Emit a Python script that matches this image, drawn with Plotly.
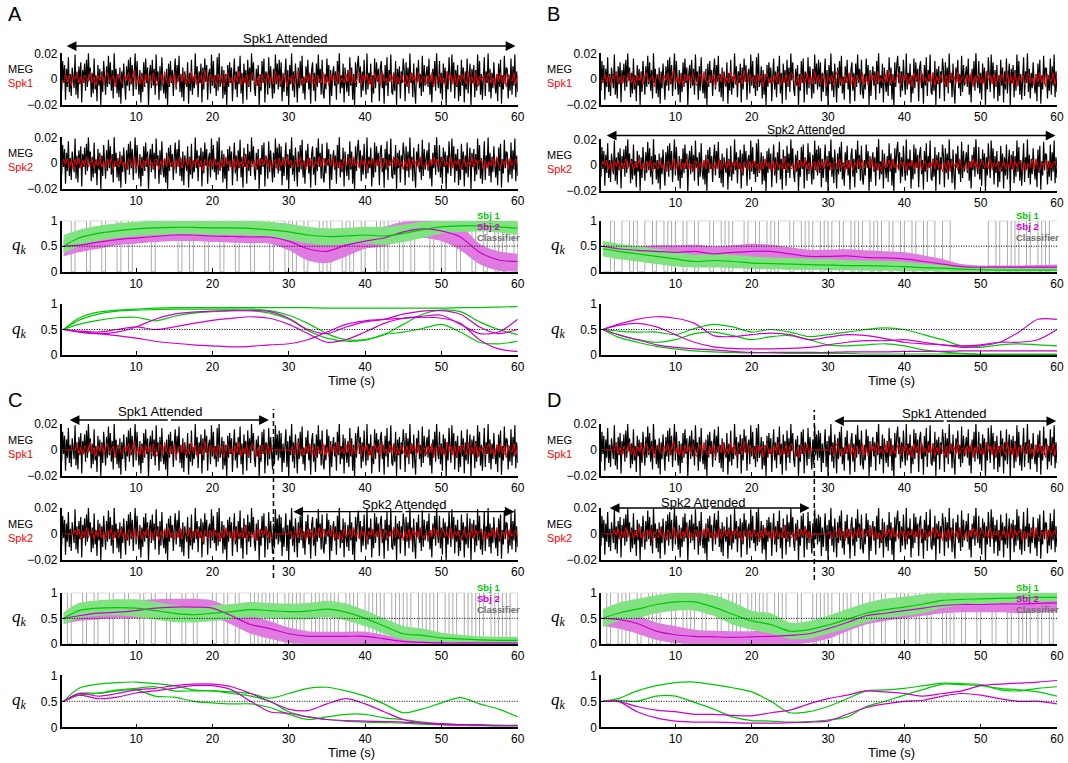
import plotly.graph_objects as go

W, H = 1068, 763

# ------------------------------------------------------------------ data
# MEG sensor trace (units of 0.001), one sample every 0.125 s
MEG_BLACK = [
    5, -9, 14, -3, 11, -16, 8, -6, 17, -10, 4, -13,
    9, -2, -7, 19, -12, 6, -15, 10, -4, 13, -18, 7,
    -3, 12, -9, 15, -6, 20, -1, 9, -14, 5, -11, 16,
    -8, 3, -17, 11, -5, 8, -20, 6, -10, 14, -2, -12,
    10, -6, 18, -4, 13, -9, 7, -15, 21, -3, 8, -11,
    4, -14, 9, -19, 6, -7, 12, -2, -16, 10, -5, 15,
    -9, 17, -4, 11, -13, 3, 20, -8, 14, -1, -12, 7,
    -18, 5, -10, 13, -6, 16, -3, 9, -21, 4, 11, -7,
    15, -5, 8, -12, 19, -2, 6, -16, 10, -9, 17, -4,
    -11, 3, -15, 8, -20, 12, -6, 14, -3, 7, -13, 5,
    16, -8, 11, -2, 18, -10, 4, -14, 9, -17, 6, -1,
    -6, 13, -19, 5, -9, 15, -12, 2, -7, 20, -4, 10,
    -14, 6, -3, 12, -18, 9, -8, 16, -2, 11, -16, 4,
    8, -11, 19, -5, 14, -7, 3, -13, 17, -9, 21, -6,
    -2, 10, -15, 7, -12, 4, -20, 11, -6, 13, -3, 9,
    -17, 2, 16, -8, 6, -14, 10, -4, 18, -11, 5, -19,
    12, -3, 7, -16, 15, -6, 9, -10, 20, -1, 13, -7,
    -13, 8, -5, 11, -21, 4, -9, 14, -3, 16, -18, 6,
    3, -12, 17, -7, 10, -2, -15, 8, -11, 19, -4, 12,
    -8, 15, -6, 13, -17, 5, -10, 3, 16, -13, 7, -20,
    11, -4, 20, -9, 6, -14, 12, -1, -18, 9, -7, 14,
    -5, 18, -11, 2, -16, 10, -3, 15, -8, 4, -19, 7,
    13, -9, 5, -17, 12, -6, 19, -3, 8, -12, 15, -10,
    -15, 4, -8, 16, -2, 11, -20, 7, -13, 3, 10, -5,
    6, -16, 14, -4, 21, -11, 3, -7, 12, -18, 9, -2,
    -10, 7, -13, 17, -5, 9, -16, 4, -21, 13, -6, 11,
    18, -3, 10, -14, 6, -9, 15, -1, -12, 20, -8, 5,
    -4, 12, -18, 3, -11, 16, -7, 13, -2, 8, -17, 9,
    14, -7, 4, -19, 11, -5, 17, -13, 7, -2, 19, -10,
    -12, 5, -9, 14, -20, 8, -4, 10, -15, 6, -3, 16,
    7, -17, 13, -6, 9, -11, 20, -3, 5, -14, 12, -8,
    -19, 9, -2, 15, -7, 4, -13, 18, -10, 11, -5, 3,
    10, -6, 16, -12, 3, -18, 8, -4, 14, -9, 21, -1,
    -7, 14, -11, 5, -16, 12, -3, 9, -20, 6, -8, 17,
    4, -10, 19, -2, 13, -15, 7, -6, 11, -17, 3, -13,
    15, -5, 9, -18, 6, -8, 16, -11, 2, 12, -21, 8,
    -3, 11, -14, 7, -9, 19, -5, 14, -12, 4, -16, 10,
    17, -13, 6, -3, 20, -10, 8, -15, 5, -7, 13, -2,
    -11, 4, -17, 12, -6, 15, -19, 3, -8, 18, -4, 9,
    8, -15, 3, -9, 16, -12, 10, -5, 19, -14, 6, -10,
]
# speech envelopes (units of 0.001), one sample every 0.25 s
MEG_RED1 = [
    1, -3, 4, -2, 3, -5, 2, 0, 5, -3, 2, -4, 3, 1, -2, 6, -3, 2, -5, 3,
    -1, 4, -4, 2, 5, -2, 0, 3, -6, 2, 4, -2, -3, 3, -1, 5, -4, 1, 7, -3,
    2, -4, 3, -5, 4, -1, 2, -3, 5, -2, -5, 2, 4, -3, 6, -1, -4, 3, -2, 4,
    -6, 2, 3, -2, 5, -4, 1, -3, 6, -2, 4, -5, 1, 3, -4, 7, -2, -3, 4, -1,
    2, -5, 4, -1, 3, -6, 2, 5, -3, 1, -4, 3, -2, 6, -5, 1, -3, 4, -5, 3,
    5, -1, -4, 2, -6, 4, 1, -3, 5, -3, 2, -4, 6, -2, 3, -4, 1, 4, -6, 2,
    -1, 3, -5, 3, 6, -3, 1, -4, 3, -2, 5, -4, 2, -6, 3, 0, -3, 5, -4, 2,
    -5, 4, -1, 3, -4, 6, -2, 1, -3, 4, -2, 7, -4, 2, -3, 1, 5, -5, 3, -1,
    4, -4, 2, -6, 5, -1, 3, -5, 6, -2, 1, -3, 4, -2, 5, -5, 2, -3, 4, -1,
    -4, 3, -6, 5, -1, 3, -4, 6, -3, 1, 2, -4, 3, -2, 5, -6, 2, -2, 4, -3,
    1, -5, 6, -1, 3, -4, 4, -5, 3, -2, 4, -1, -4, 6, -3, 2, -4, 5, -6, 2,
    -1, 3, -4, 2, 5, -3, 1, -5, 4, -2, 5, -3, 3, -6, 4, 0, -2, 5, -4, 3,
]
MEG_RED2 = [
    -2, 3, -1, 4, -3, 2, -5, 3, -1, 4, -4, 2, -2, 5, -3, 1, 3, -4, 2, -2,
    5, -3, 1, -4, 3, -1, 4, -5, 2, -1, -3, 4, -2, 1, -5, 3, 2, -3, 5, -4,
    1, 3, -4, 2, -2, 5, -3, 1, -4, 3, 3, -5, 2, -1, 4, -3, 5, -2, 1, -4,
    2, -3, 5, -4, 1, 3, -2, 4, -5, 2, -1, 4, -3, 2, -6, 3, 1, -4, 3, -2,
    4, -2, 1, -5, 3, -3, 5, -1, 2, -4, 3, -5, 4, -2, 1, -3, 6, -4, 2, -1,
    -3, 2, -5, 4, -2, 3, -1, 5, -3, 2, -4, 1, 3, -5, 4, -2, 2, -3, 5, -1,
    2, -4, 1, 3, -3, 5, -2, 1, -5, 4, -2, 3, -4, 2, -1, 5, -3, 4, -2, 1,
    3, -2, 5, -4, 2, -3, 1, -5, 4, -2, -1, 4, -3, 5, -2, 1, -4, 3, -1, 3,
    -5, 2, -1, 4, -3, 2, -2, 5, -4, 1, 3, -4, 2, -1, 5, -3, 4, -2, 1, -5,
    2, -3, 4, -5, 3, -1, 2, -4, 5, -2, -3, 1, -4, 3, -2, 5, -1, 3, -4, 2,
    4, -2, 1, -3, 5, -4, 2, -1, 3, -5, -2, 4, -3, 1, -2, 5, -4, 3, -1, 2,
    3, -5, 2, -4, 1, -2, 4, -3, 5, -1, -4, 2, -1, 3, -5, 4, -2, 1, 3, -3,
]
SILENT_START = [0] * 7     # envelope silent before ~2 s (panels C, D)
SILENT_SWITCH = [0] * 9    # envelope silent around the switch (~28-30 s)
MEG_RED1_CD = SILENT_START + MEG_RED1[7:111] + SILENT_SWITCH + MEG_RED1[120:]
MEG_RED2_CD = SILENT_START + MEG_RED2[7:111] + SILENT_SWITCH + MEG_RED2[120:]
T_BLACK = [0.125 * (i + 1) for i in range(len(MEG_BLACK))]
T_RED = [0.25 * (i + 1) for i in range(len(MEG_RED1))]

# classifier decisions, one every 0.5 s
CLS_A = "1101110111 0111011011 1110111111 0110111011 1011101110 1111011101 0110111010 1110101101 1101011101 1011110110 1110111011 0110101101"
CLS_B = "0010011010 0110110101 1011011101 1010111011 0110101110 1101011010 1101101011 0101101101 1011011001 1000000000 0110110101 1011010111"
CLS_C = "1011101101 1101110111 0110111011 1011011110 1101101110 1010101101 0101101010 1011010110 1010110101 0110101011 0101101010 1101010110"
CLS_D = "1011010110 1101011101 1010110111 0110101101 0101101011 1011101010 1101011011 0110111010 1101101110 1011011101 1101110110 1011011011"

# q_k knots
T_Q = [0.5, 2.5, 5, 7.5, 10, 12.5, 15, 17.5, 20, 22.5, 25, 27.5, 30,
       32.5, 35, 37.5, 40, 42.5, 45, 47.5, 50, 52.5, 55, 57.5, 60]

# ---- panel A
A_G_MEAN = [0.5, 0.66, 0.75, 0.8, 0.84, 0.86, 0.87, 0.87, 0.86, 0.86, 0.85, 0.82, 0.78, 0.72, 0.69, 0.7, 0.72, 0.7, 0.75, 0.82, 0.88, 0.9, 0.9, 0.88, 0.85]
A_G_UP = [0.72, 0.82, 0.9, 0.95, 0.98, 1, 1, 1, 1, 1, 1, 0.98, 0.94, 0.88, 0.85, 0.86, 0.88, 0.88, 0.92, 0.98, 1, 1, 1, 1, 1]
A_G_LO = [0.36, 0.5, 0.6, 0.66, 0.7, 0.72, 0.73, 0.73, 0.72, 0.72, 0.71, 0.68, 0.62, 0.56, 0.52, 0.54, 0.56, 0.53, 0.58, 0.66, 0.75, 0.78, 0.79, 0.77, 0.72]
A_M_MEAN = [0.5, 0.52, 0.58, 0.63, 0.66, 0.69, 0.72, 0.72, 0.7, 0.69, 0.68, 0.68, 0.6, 0.45, 0.4, 0.52, 0.6, 0.66, 0.78, 0.84, 0.8, 0.68, 0.38, 0.23, 0.2]
A_M_UP = [0.62, 0.68, 0.72, 0.75, 0.78, 0.8, 0.82, 0.82, 0.82, 0.8, 0.8, 0.8, 0.72, 0.6, 0.55, 0.68, 0.78, 0.88, 0.98, 1, 1, 0.9, 0.55, 0.4, 0.35]
A_M_LO = [0.3, 0.38, 0.45, 0.52, 0.55, 0.58, 0.6, 0.6, 0.58, 0.57, 0.56, 0.55, 0.42, 0.22, 0.17, 0.3, 0.45, 0.5, 0.6, 0.66, 0.6, 0.42, 0.15, 0.02, 0.0]
A_G1 = [0.5, 0.72, 0.84, 0.88, 0.9, 0.92, 0.93, 0.93, 0.93, 0.93, 0.93, 0.93, 0.93, 0.93, 0.92, 0.92, 0.92, 0.92, 0.92, 0.92, 0.92, 0.93, 0.93, 0.94, 0.95]
A_G2 = [0.5, 0.68, 0.8, 0.86, 0.88, 0.89, 0.9, 0.9, 0.9, 0.9, 0.9, 0.87, 0.78, 0.62, 0.42, 0.3, 0.3, 0.4, 0.6, 0.8, 0.88, 0.85, 0.65, 0.5, 0.4]
A_G3 = [0.5, 0.6, 0.68, 0.73, 0.74, 0.67, 0.76, 0.82, 0.85, 0.87, 0.87, 0.82, 0.7, 0.48, 0.33, 0.27, 0.29, 0.4, 0.45, 0.52, 0.6, 0.45, 0.25, 0.22, 0.27]
A_M1 = [0.5, 0.45, 0.42, 0.45, 0.55, 0.7, 0.8, 0.84, 0.86, 0.87, 0.87, 0.85, 0.72, 0.5, 0.42, 0.55, 0.65, 0.7, 0.8, 0.86, 0.87, 0.8, 0.55, 0.42, 0.5]
A_M2 = [0.5, 0.46, 0.42, 0.38, 0.33, 0.27, 0.23, 0.2, 0.18, 0.16, 0.17, 0.2, 0.22, 0.3, 0.45, 0.6, 0.67, 0.7, 0.72, 0.74, 0.72, 0.62, 0.3, 0.12, 0.07]
A_M3 = [0.5, 0.47, 0.45, 0.5, 0.55, 0.5, 0.55, 0.62, 0.68, 0.72, 0.75, 0.72, 0.6, 0.42, 0.25, 0.3, 0.45, 0.62, 0.72, 0.76, 0.78, 0.6, 0.42, 0.45, 0.7]

# ---- panel B
B_G_MEAN = [0.45, 0.4, 0.35, 0.3, 0.25, 0.2, 0.22, 0.2, 0.17, 0.16, 0.15, 0.14, 0.13, 0.12, 0.12, 0.11, 0.1, 0.08, 0.07, 0.05, 0.04, 0.03, 0.03, 0.03, 0.03]
B_G_UP = [0.6, 0.55, 0.5, 0.45, 0.4, 0.33, 0.35, 0.33, 0.3, 0.28, 0.27, 0.26, 0.25, 0.23, 0.22, 0.21, 0.2, 0.16, 0.13, 0.11, 0.1, 0.08, 0.07, 0.07, 0.07]
B_G_LO = [0.3, 0.25, 0.2, 0.15, 0.1, 0.08, 0.08, 0.07, 0.06, 0.05, 0.04, 0.04, 0.03, 0.03, 0.02, 0.02, 0.01, 0.01, 0.0, 0.0, 0.0, 0.0, 0.0, 0.0, 0.0]
B_M_MEAN = [0.5, 0.45, 0.42, 0.4, 0.38, 0.4, 0.35, 0.38, 0.4, 0.4, 0.35, 0.3, 0.3, 0.31, 0.28, 0.27, 0.25, 0.2, 0.15, 0.1, 0.09, 0.09, 0.09, 0.09, 0.09]
B_M_UP = [0.55, 0.52, 0.5, 0.52, 0.52, 0.53, 0.5, 0.52, 0.55, 0.53, 0.48, 0.43, 0.43, 0.44, 0.42, 0.4, 0.38, 0.32, 0.25, 0.15, 0.12, 0.12, 0.12, 0.13, 0.14]
B_M_LO = [0.35, 0.3, 0.3, 0.28, 0.25, 0.27, 0.22, 0.25, 0.27, 0.26, 0.22, 0.18, 0.17, 0.18, 0.15, 0.13, 0.12, 0.1, 0.07, 0.05, 0.05, 0.05, 0.05, 0.05, 0.05]
B_G1 = [0.5, 0.47, 0.45, 0.45, 0.4, 0.52, 0.6, 0.55, 0.45, 0.5, 0.45, 0.36, 0.4, 0.45, 0.5, 0.53, 0.5, 0.4, 0.3, 0.18, 0.15, 0.2, 0.22, 0.2, 0.18]
B_G2 = [0.5, 0.4, 0.3, 0.25, 0.3, 0.42, 0.45, 0.38, 0.3, 0.36, 0.38, 0.3, 0.2, 0.18, 0.2, 0.22, 0.18, 0.1, 0.06, 0.03, 0.02, 0.02, 0.02, 0.02, 0.02]
B_G3 = [0.5, 0.35, 0.25, 0.17, 0.12, 0.08, 0.06, 0.05, 0.04, 0.04, 0.03, 0.03, 0.03, 0.03, 0.02, 0.02, 0.02, 0.02, 0.02, 0.02, 0.01, 0.01, 0.01, 0.01, 0.01]
B_M1 = [0.5, 0.6, 0.7, 0.75, 0.72, 0.62, 0.38, 0.36, 0.4, 0.43, 0.4, 0.3, 0.35, 0.4, 0.38, 0.32, 0.25, 0.22, 0.2, 0.15, 0.18, 0.25, 0.45, 0.7, 0.7]
B_M2 = [0.5, 0.58, 0.62, 0.55, 0.4, 0.25, 0.16, 0.13, 0.12, 0.12, 0.13, 0.15, 0.2, 0.25, 0.28, 0.28, 0.3, 0.25, 0.2, 0.18, 0.2, 0.25, 0.25, 0.3, 0.5]
B_M3 = [0.5, 0.4, 0.3, 0.2, 0.15, 0.12, 0.1, 0.07, 0.05, 0.05, 0.05, 0.05, 0.05, 0.06, 0.06, 0.06, 0.07, 0.07, 0.07, 0.08, 0.08, 0.08, 0.08, 0.08, 0.08]

# ---- panel C
C_G_MEAN = [0.5, 0.65, 0.7, 0.71, 0.7, 0.65, 0.6, 0.57, 0.6, 0.63, 0.67, 0.65, 0.63, 0.64, 0.68, 0.62, 0.5, 0.35, 0.2, 0.17, 0.12, 0.1, 0.08, 0.07, 0.07]
C_G_UP = [0.62, 0.8, 0.85, 0.87, 0.87, 0.82, 0.76, 0.72, 0.75, 0.78, 0.82, 0.8, 0.79, 0.8, 0.84, 0.79, 0.66, 0.5, 0.35, 0.3, 0.22, 0.18, 0.15, 0.14, 0.14]
C_G_LO = [0.38, 0.5, 0.55, 0.56, 0.53, 0.48, 0.43, 0.42, 0.45, 0.48, 0.52, 0.5, 0.48, 0.48, 0.52, 0.46, 0.35, 0.2, 0.08, 0.05, 0.03, 0.02, 0.01, 0.01, 0.01]
C_M_MEAN = [0.5, 0.55, 0.6, 0.62, 0.65, 0.7, 0.72, 0.72, 0.7, 0.55, 0.38, 0.3, 0.2, 0.15, 0.15, 0.15, 0.15, 0.1, 0.05, 0.03, 0.02, 0.02, 0.02, 0.02, 0.02]
C_M_UP = [0.6, 0.68, 0.75, 0.8, 0.85, 0.87, 0.88, 0.88, 0.85, 0.7, 0.55, 0.45, 0.32, 0.25, 0.24, 0.24, 0.24, 0.18, 0.1, 0.06, 0.05, 0.04, 0.04, 0.04, 0.04]
C_M_LO = [0.4, 0.45, 0.48, 0.5, 0.5, 0.52, 0.55, 0.55, 0.52, 0.38, 0.2, 0.1, 0.02, 0, 0, 0, 0, 0, 0, 0, 0, 0, 0, 0, 0]
C_G1 = [0.5, 0.75, 0.83, 0.86, 0.87, 0.84, 0.8, 0.72, 0.7, 0.68, 0.65, 0.56, 0.65, 0.75, 0.77, 0.7, 0.6, 0.45, 0.28, 0.35, 0.47, 0.57, 0.45, 0.35, 0.2]
C_G2 = [0.5, 0.62, 0.65, 0.7, 0.72, 0.6, 0.58, 0.5, 0.47, 0.45, 0.45, 0.38, 0.25, 0.15, 0.2, 0.25, 0.25, 0.18, 0.15, 0.1, 0.07, 0.05, 0.05, 0.04, 0.04]
C_G3 = [0.5, 0.65, 0.66, 0.72, 0.75, 0.78, 0.7, 0.7, 0.7, 0.65, 0.6, 0.5, 0.3, 0.2, 0.15, 0.12, 0.1, 0.09, 0.08, 0.06, 0.05, 0.04, 0.03, 0.03, 0.03]
C_M1 = [0.5, 0.65, 0.6, 0.65, 0.72, 0.75, 0.8, 0.83, 0.83, 0.78, 0.65, 0.5, 0.35, 0.32, 0.45, 0.55, 0.45, 0.3, 0.15, 0.08, 0.05, 0.04, 0.04, 0.03, 0.03]
C_M2 = [0.5, 0.62, 0.55, 0.58, 0.66, 0.7, 0.75, 0.8, 0.8, 0.72, 0.5, 0.3, 0.27, 0.2, 0.15, 0.13, 0.12, 0.11, 0.1, 0.08, 0.07, 0.05, 0.04, 0.03, 0.03]

# ---- panel D
D_G_MEAN = [0.5, 0.6, 0.68, 0.77, 0.82, 0.82, 0.72, 0.58, 0.45, 0.38, 0.25, 0.28, 0.37, 0.48, 0.6, 0.67, 0.72, 0.78, 0.85, 0.87, 0.88, 0.89, 0.9, 0.91, 0.91]
D_G_UP = [0.68, 0.8, 0.88, 0.95, 1, 1, 0.95, 0.82, 0.65, 0.6, 0.42, 0.45, 0.55, 0.68, 0.8, 0.88, 0.92, 0.97, 1, 1, 1, 1, 1, 1, 1]
D_G_LO = [0.33, 0.45, 0.5, 0.6, 0.65, 0.65, 0.55, 0.38, 0.28, 0.2, 0.1, 0.1, 0.2, 0.3, 0.42, 0.5, 0.55, 0.6, 0.7, 0.75, 0.78, 0.8, 0.82, 0.83, 0.84]
D_M_MEAN = [0.5, 0.48, 0.4, 0.25, 0.18, 0.15, 0.14, 0.13, 0.14, 0.15, 0.17, 0.2, 0.3, 0.42, 0.55, 0.6, 0.65, 0.7, 0.75, 0.77, 0.77, 0.78, 0.78, 0.79, 0.8]
D_M_UP = [0.55, 0.58, 0.55, 0.42, 0.35, 0.28, 0.26, 0.25, 0.25, 0.28, 0.3, 0.35, 0.42, 0.55, 0.66, 0.72, 0.78, 0.82, 0.9, 0.92, 0.92, 0.92, 0.92, 0.93, 0.93]
D_M_LO = [0.35, 0.3, 0.2, 0.08, 0.02, 0, 0, 0, 0, 0, 0, 0.02, 0.1, 0.25, 0.38, 0.45, 0.5, 0.55, 0.6, 0.62, 0.62, 0.62, 0.6, 0.62, 0.63]
D_G1 = [0.5, 0.55, 0.7, 0.8, 0.86, 0.87, 0.82, 0.76, 0.68, 0.5, 0.28, 0.3, 0.4, 0.55, 0.7, 0.72, 0.75, 0.8, 0.85, 0.84, 0.82, 0.72, 0.7, 0.75, 0.78]
D_G2 = [0.5, 0.52, 0.5, 0.6, 0.6, 0.48, 0.35, 0.2, 0.13, 0.12, 0.1, 0.11, 0.14, 0.2, 0.4, 0.5, 0.62, 0.73, 0.83, 0.82, 0.8, 0.75, 0.72, 0.68, 0.6]
D_M1 = [0.5, 0.5, 0.4, 0.33, 0.3, 0.25, 0.25, 0.23, 0.22, 0.28, 0.33, 0.45, 0.55, 0.62, 0.7, 0.68, 0.65, 0.6, 0.65, 0.7, 0.8, 0.83, 0.85, 0.87, 0.9]
D_M2 = [0.5, 0.5, 0.3, 0.18, 0.12, 0.1, 0.1, 0.09, 0.08, 0.08, 0.09, 0.1, 0.12, 0.25, 0.38, 0.45, 0.5, 0.52, 0.6, 0.65, 0.62, 0.55, 0.5, 0.5, 0.45]

# tick labels
MEG_TICKS = [-0.02, 0, 0.02]
MEG_TICKTEXT = ["\u22120.02", "0", "0.02"]
Q_TICKS = [0, 0.5, 1]
Q_TICKTEXT = ["0", "0.5", "1"]
X_TICKS = [10, 20, 30, 40, 50, 60]

# ------------------------------------------------------------------ styling
GREEN = "rgb(0,200,0)"
MAGENTA = "rgb(205,0,205)"
GREEN_FILL = "rgb(128,226,128)"
MAGENTA_FILL = "rgb(224,124,224)"
GRAY = "rgb(150,150,150)"
FONT = "Liberation Sans, Arial, sans-serif"

COL_L = (61.7, 517.7)
COL_R = (601.0, 1057.0)
ROWS_TOP = [(53.3, 105.0), (137.3, 189.0), (220.7, 271.7), (304.0, 355.0)]
ROWS_TOP_B = [(53.3, 105.0), (139.3, 191.0), (220.7, 271.7), (304.0, 355.0)]
ROWS_BOT = [(424.0, 476.0), (508.0, 560.0), (592.7, 644.0), (675.3, 727.3)]

PANELS = [
    dict(letter="A", col=COL_L, rows=ROWS_TOP, red1=MEG_RED1, red2=MEG_RED2, cls=CLS_A,
         g=(A_G_MEAN, A_G_UP, A_G_LO), m=(A_M_MEAN, A_M_UP, A_M_LO),
         glines=[A_G1, A_G2, A_G3], mlines=[A_M1, A_M2, A_M3]),
    dict(letter="B", col=COL_R, rows=ROWS_TOP_B, red1=MEG_RED1, red2=MEG_RED2, cls=CLS_B,
         g=(B_G_MEAN, B_G_UP, B_G_LO), m=(B_M_MEAN, B_M_UP, B_M_LO),
         glines=[B_G1, B_G2, B_G3], mlines=[B_M1, B_M2, B_M3]),
    dict(letter="C", col=COL_L, rows=ROWS_BOT, red1=MEG_RED1_CD, red2=MEG_RED2_CD, cls=CLS_C,
         g=(C_G_MEAN, C_G_UP, C_G_LO), m=(C_M_MEAN, C_M_UP, C_M_LO),
         glines=[C_G1, C_G2, C_G3], mlines=[C_M1, C_M2]),
    dict(letter="D", col=COL_R, rows=ROWS_BOT, red1=MEG_RED1_CD, red2=MEG_RED2_CD, cls=CLS_D,
         g=(D_G_MEAN, D_G_UP, D_G_LO), m=(D_M_MEAN, D_M_UP, D_M_LO),
         glines=[D_G1, D_G2], mlines=[D_M1, D_M2]),
]


def px_x(p):
    return p / W


def px_y(p):
    return 1 - p / H


fig = go.Figure()
layout_axes = {}
annotations = []
shapes = []


def axis_ids(n):
    k = "" if n == 1 else str(n)
    return "x" + k, "y" + k, "xaxis" + k, "yaxis" + k


def add_axes(n, col, row, kind):
    xid, yid, xkey, ykey = axis_ids(n)
    common = dict(showline=True, linecolor="black", linewidth=1.5, mirror=False,
                  ticks="inside", ticklen=4, tickwidth=1, tickcolor="black",
                  showgrid=False, zeroline=False, automargin=False,
                  tickfont=dict(family=FONT, size=12, color="black"))
    layout_axes[xkey] = dict(domain=[px_x(col[0]), px_x(col[1])], anchor=yid,
                             range=[0.25, 60], tickvals=X_TICKS, ticktext=[str(v) for v in X_TICKS],
                             **common)
    if kind == "meg":
        yr, tv, tt = [-0.02, 0.02], MEG_TICKS, MEG_TICKTEXT
    else:
        yr, tv, tt = [0, 1], Q_TICKS, Q_TICKTEXT
    layout_axes[ykey] = dict(domain=[px_y(row[1]), px_y(row[0])], anchor=xid,
                             range=yr, tickvals=tv, ticktext=tt, **common)
    return xid, yid


def line_trace(x, y, xid, yid, color, width, shape="linear"):
    return go.Scatter(x=x, y=y, xaxis=xid, yaxis=yid, mode="lines",
                      line=dict(color=color, width=width, shape=shape, smoothing=0.8),
                      showlegend=False, hoverinfo="skip")


def band(x, up, lo, xid, yid, fill):
    fig.add_trace(go.Scatter(x=x, y=up, xaxis=xid, yaxis=yid, mode="lines",
                             line=dict(width=0, color=fill, shape="spline", smoothing=0.8),
                             showlegend=False, hoverinfo="skip"))
    fig.add_trace(go.Scatter(x=x, y=lo, xaxis=xid, yaxis=yid, mode="lines",
                             line=dict(width=0, color=fill, shape="spline", smoothing=0.8),
                             fill="tonexty", fillcolor=fill,
                             showlegend=False, hoverinfo="skip"))


def text(xp, yp, s, size=12, color="black", xanchor="center", bold=False, family=FONT):
    if bold:
        s = "<b>" + s + "</b>"
    annotations.append(dict(x=px_x(xp), y=px_y(yp), xref="paper", yref="paper", text=s,
                            showarrow=False, xanchor=xanchor, yanchor="middle", borderpad=0,
                            font=dict(family=family, size=size, color=color)))


def dotted_half(xid, yid):
    shapes.append(dict(type="line", xref=xid + " domain", yref=yid, x0=0, x1=1, y0=0.5, y1=0.5,
                       line=dict(color="black", width=1, dash="1px,1.5px"), layer="above"))


for p, P in enumerate(PANELS):
    col, rows = P["col"], P["rows"]
    base = 4 * p
    dx = col[0] - 61.7
    # letter
    text(7 + dx, 14 if p < 2 else 400, P["letter"], size=20, xanchor="left")

    # MEG rows
    for r, red in enumerate([P["red1"], P["red2"]]):
        xid, yid = add_axes(base + r + 1, col, rows[r], "meg")
        fig.add_trace(line_trace(T_BLACK, [v * 0.001 for v in MEG_BLACK], xid, yid, "black", 1.2))
        fig.add_trace(line_trace(T_RED, [v * 0.001 for v in red], xid, yid, "rgb(255,0,0)", 1.0))
        zero = (rows[r][0] + rows[r][1]) / 2
        text(7 + dx, zero - 10, "MEG", size=11, xanchor="left")
        text(7 + dx, zero + 4, "Spk%d" % (r + 1), size=11, color="rgb(255,0,0)", xanchor="left")

    # band row
    xid, yid = add_axes(base + 3, col, rows[2], "q")
    cls = [int(c) for c in P["cls"].replace(" ", "")]
    t_cls = [0.5 * (i + 1) for i in range(len(cls))]
    fig.add_trace(line_trace(t_cls, cls, xid, yid, GRAY, 0.8, "hv"))
    band(T_Q, P["m"][1], P["m"][2], xid, yid, MAGENTA_FILL)
    band(T_Q, P["g"][1], P["g"][2], xid, yid, GREEN_FILL)
    fig.add_trace(line_trace(T_Q, P["m"][0], xid, yid, MAGENTA, 1.2, "spline"))
    fig.add_trace(line_trace(T_Q, P["g"][0], xid, yid, GREEN, 1.2, "spline"))
    dotted_half(xid, yid)
    top = rows[2][0]
    text(col[0] + 414, top - 5, "Sbj 1", size=9.5, color=GREEN, xanchor="left", bold=True)
    text(col[0] + 414, top + 6, "Sbj 2", size=9.5, color=MAGENTA, xanchor="left", bold=True)
    text(col[0] + 414, top + 17, "Classifier", size=9.5, color="rgb(110,110,110)", xanchor="left", bold=True)
    mid = (rows[2][0] + rows[2][1]) / 2
    text(19 + dx, mid, "<i>q</i><sub><i>k</i></sub>", size=17, family="Liberation Serif, serif")

    # individual subjects row
    xid, yid = add_axes(base + 4, col, rows[3], "q")
    for g in P["glines"]:
        fig.add_trace(line_trace(T_Q, g, xid, yid, GREEN, 1.2, "spline"))
    for m in P["mlines"]:
        fig.add_trace(line_trace(T_Q, m, xid, yid, MAGENTA, 1.2, "spline"))
    dotted_half(xid, yid)
    mid = (rows[3][0] + rows[3][1]) / 2
    text(19 + dx, mid, "<i>q</i><sub><i>k</i></sub>", size=17, family="Liberation Serif, serif")
    text((col[0] + col[1]) / 2 + 62, rows[3][1] + 25, "Time (s)", size=13)


def double_arrow(n, t0, t1, ypix, label, label_x, label_y, size=13):
    xid, _, _, _ = axis_ids(n)
    mid = (t0 + t1) / 2
    for tip in (t0, t1):
        annotations.append(dict(x=tip, y=px_y(ypix), xref=xid, yref="paper",
                                ax=mid, ay=0, axref=xid, ayref="pixel",
                                showarrow=True, arrowhead=2, arrowsize=1.5, arrowwidth=1.3,
                                arrowcolor="black", text="", standoff=0, startstandoff=0))
    text(label_x, label_y, label, size=size)


double_arrow(1, 0.9, 59.7, 46, "Spk1 Attended", 285, 38)
double_arrow(6, 1.0, 59.8, 135.5, "Spk2 Attended", 806, 130, size=12)
double_arrow(9, 1.3, 27.4, 420, "Spk1 Attended", 160, 412)
double_arrow(10, 30.6, 59.6, 511.7, "Spk2 Attended", 404, 505)
double_arrow(13, 30.8, 59.9, 421, "Spk1 Attended", 944, 413)
double_arrow(14, 1.4, 27.6, 508, "Spk2 Attended", 704, 502)

# attention switch markers
shapes.append(dict(type="line", xref="x9", yref="paper", x0=28.0, x1=28.0,
                   y0=px_y(578), y1=px_y(409), line=dict(color="black", width=1.5, dash="5px,3px")))
shapes.append(dict(type="line", xref="x13", yref="paper", x0=28.2, x1=28.2,
                   y0=px_y(580), y1=px_y(410), line=dict(color="black", width=1.5, dash="5px,3px")))

fig.update_layout(width=W, height=H, margin=dict(l=0, r=0, t=0, b=0, pad=0, autoexpand=False),
                  paper_bgcolor="white", plot_bgcolor="white",
                  font=dict(family=FONT, size=12, color="black"),
                  showlegend=False, annotations=annotations, shapes=shapes, **layout_axes)

fig.write_html("out.html", config={"displayModeBar": False},
               post_script="document.body.style.margin='0px';document.body.style.overflow='hidden';")
